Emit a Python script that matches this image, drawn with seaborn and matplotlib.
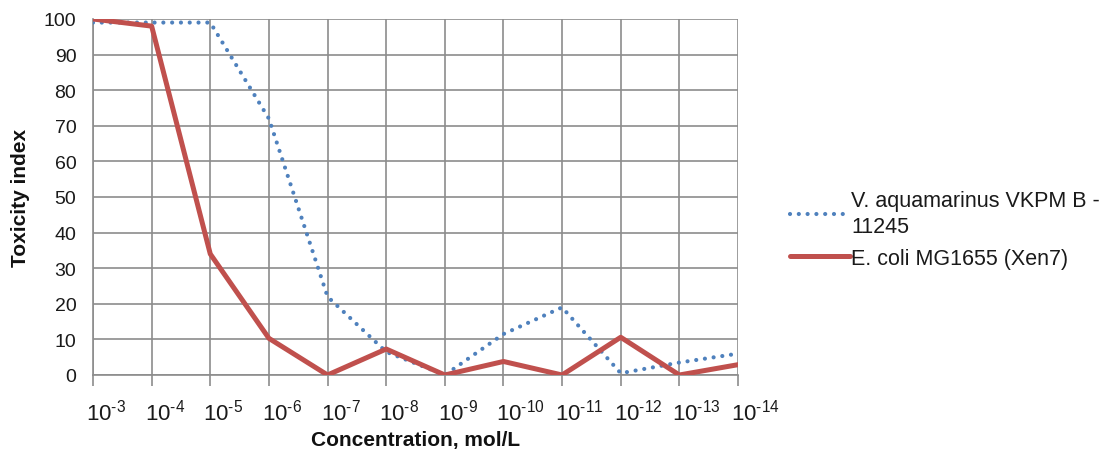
import matplotlib
matplotlib.use("Agg")
import matplotlib.pyplot as plt
import matplotlib.transforms as mtransforms
import seaborn as sns
import pandas as pd

exponents = ["-3", "-4", "-5", "-6", "-7", "-8", "-9", "-10", "-11", "-12", "-13", "-14"]
v_aquamarinus = [99, 99, 99, 72, 22, 6.5, 0, 11.5, 19, 0.5, 3.5, 6]
e_coli = [100, 98, 34, 10.3, 0, 7.3, 0, 3.8, 0, 10.6, 0, 2.9]
series_names = ["V. aquamarinus VKPM B -\n11245", "E. coli MG1655 (Xen7)"]
y_ticks = list(range(0, 101, 10))

sns.set_theme(style="white")
plt.rcParams['font.family'] = ['Liberation Sans', 'DejaVu Sans']
plt.rcParams['mathtext.fontset'] = 'custom'
plt.rcParams['mathtext.rm'] = 'Liberation Sans'
plt.rcParams['mathtext.default'] = 'rm'
plt.rcParams['text.color'] = '#1a1a1a'
plt.rcParams['xtick.labelcolor'] = '#1a1a1a'
plt.rcParams['ytick.labelcolor'] = '#1a1a1a'
plt.rcParams['axes.labelcolor'] = '#111111'

pos = list(range(len(exponents)))
df = pd.DataFrame({
    "pos": pos * 2,
    "value": v_aquamarinus + e_coli,
    "series": [series_names[0]] * len(pos) + [series_names[1]] * len(pos),
})

fig = plt.figure(figsize=(11.13, 4.52), dpi=100)
ax = fig.add_axes([93/1113, 1-376/452, (738-93)/1113, (376-20)/452])

grid_c = "#8c8c8c"
blue = "#4F81BD"
red = "#C0504D"

sns.lineplot(data=df[df.series == series_names[0]], x="pos", y="value", ax=ax,
             color=blue, linewidth=3.0, label=series_names[0], zorder=3)
ax.lines[-1].set_linestyle((0, (0.01, 2.1)))
ax.lines[-1].set_dash_capstyle("round")
sns.lineplot(data=df[df.series == series_names[1]], x="pos", y="value", ax=ax,
             color=red, linewidth=3.6, label=series_names[1], zorder=4)

ax.set_xlim(0, len(pos) - 1)
ax.set_ylim(0, 100)
ax.set_yticks(y_ticks)
ax.set_xticks(pos)
ax.set_xticklabels(["10$^{\\text{" + e + "}}$" for e in exponents])
ax.grid(True, color=grid_c, linewidth=1.2)
ax.set_axisbelow(True)
for s in ["top", "right"]:
    ax.spines[s].set_visible(False)
for s in ["left", "bottom"]:
    ax.spines[s].set_color(grid_c)
    ax.spines[s].set_linewidth(1.2)
ax.tick_params(axis="x", which="both", bottom=True, length=8, width=1.2, color=grid_c,
               labelsize=16, pad=9, direction="out")
ax.tick_params(axis="y", left=False, labelsize=14, pad=6)

offset = mtransforms.ScaledTranslation(-7/100, 0, fig.dpi_scale_trans)
for lab in ax.get_xticklabels():
    lab.set_horizontalalignment("left")
    lab.set_transform(lab.get_transform() + offset)

ax.set_xlabel("Concentration, mol/L", fontsize=15, fontweight="bold")
ax.xaxis.set_label_coords(0.5, -0.155)
ax.set_ylabel("Toxicity index", fontsize=15, fontweight="bold", labelpad=10)

leg = ax.legend(loc="center left", bbox_to_anchor=(790/1113, 0.49), bbox_transform=fig.transFigure,
                frameon=False, handlelength=2.8, handletextpad=0.05, labelspacing=0.5,
                borderpad=0, borderaxespad=0,
                prop={"family": ["Liberation Sans", "DejaVu Sans"], "size": 15.5})
for t in leg.get_texts():
    t.set_linespacing(1.3)

fig.savefig("out.png", dpi=100)
